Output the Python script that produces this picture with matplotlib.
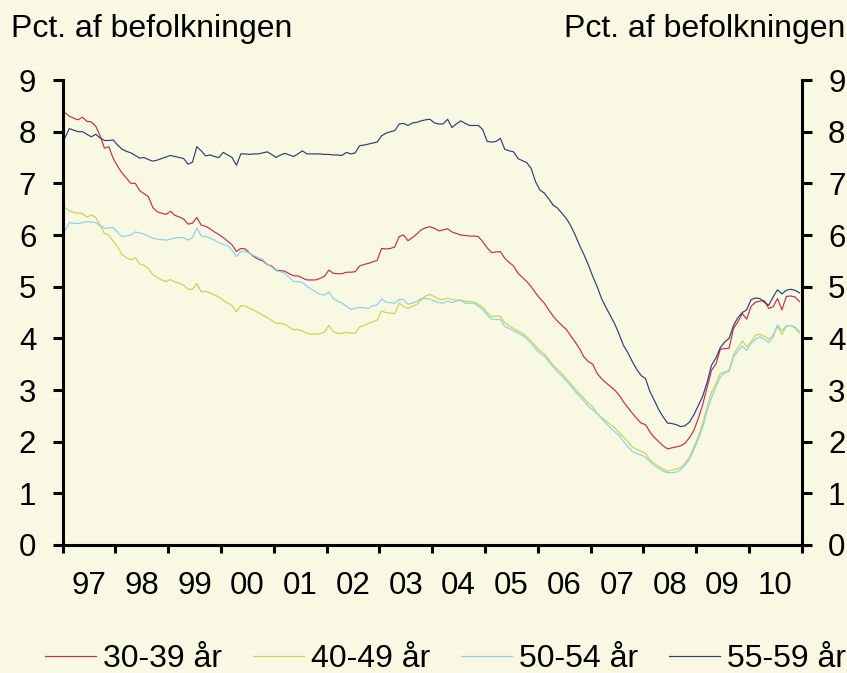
import matplotlib
matplotlib.use("Agg")
import matplotlib.pyplot as plt
import numpy as np

# monthly data, Jan 1997 - Dec 2010 (pct. of population)
age_30_39 = [
    8.37, 8.30, 8.26, 8.23, 8.28, 8.20, 8.19, 8.11, 7.92, 7.68, 7.71, 7.48,
    7.33, 7.20, 7.10, 7.00, 7.00, 6.86, 6.80, 6.74, 6.53, 6.45, 6.42, 6.40,
    6.46, 6.38, 6.35, 6.31, 6.21, 6.23, 6.34, 6.19, 6.17, 6.12, 6.06, 6.01,
    5.95, 5.88, 5.81, 5.68, 5.74, 5.73, 5.65, 5.58, 5.53, 5.50, 5.43, 5.40,
    5.32, 5.31, 5.30, 5.25, 5.21, 5.21, 5.17, 5.13, 5.13, 5.13, 5.16, 5.20,
    5.32, 5.26, 5.25, 5.25, 5.28, 5.28, 5.29, 5.40, 5.43, 5.45, 5.48, 5.51,
    5.74, 5.73, 5.74, 5.77, 5.97, 6.00, 5.89, 5.95, 6.02, 6.10, 6.14, 6.16,
    6.13, 6.08, 6.10, 6.12, 6.06, 6.03, 6.00, 5.99, 5.98, 5.98, 5.97, 5.87,
    5.75, 5.66, 5.67, 5.68, 5.55, 5.47, 5.40, 5.26, 5.18, 5.10, 5.00, 4.88,
    4.77, 4.68, 4.55, 4.43, 4.33, 4.25, 4.17, 4.05, 3.93, 3.80, 3.64, 3.55,
    3.50, 3.32, 3.22, 3.14, 3.07, 3.00, 2.90, 2.77, 2.66, 2.55, 2.45, 2.36,
    2.33, 2.19, 2.08, 2.00, 1.92, 1.86, 1.88, 1.90, 1.92, 1.97, 2.08, 2.22,
    2.45, 2.72, 3.05, 3.38, 3.50, 3.79, 3.80, 3.81, 4.19, 4.32, 4.48, 4.37,
    4.62, 4.70, 4.72, 4.73, 4.58, 4.61, 4.77, 4.55, 4.81, 4.82, 4.80, 4.71,
]

age_40_49 = [
    6.53, 6.47, 6.44, 6.42, 6.42, 6.34, 6.39, 6.34, 6.19, 6.03, 6.00, 5.88,
    5.77, 5.62, 5.56, 5.52, 5.56, 5.44, 5.41, 5.35, 5.23, 5.18, 5.13, 5.10,
    5.14, 5.09, 5.07, 5.03, 4.95, 4.95, 5.06, 4.90, 4.91, 4.88, 4.84, 4.80,
    4.74, 4.68, 4.63, 4.52, 4.63, 4.63, 4.58, 4.54, 4.50, 4.45, 4.40, 4.35,
    4.29, 4.29, 4.27, 4.22, 4.17, 4.17, 4.14, 4.10, 4.08, 4.08, 4.09, 4.12,
    4.25, 4.13, 4.10, 4.09, 4.12, 4.10, 4.10, 4.22, 4.25, 4.29, 4.32, 4.35,
    4.53, 4.50, 4.49, 4.48, 4.68, 4.62, 4.58, 4.62, 4.66, 4.75, 4.82, 4.85,
    4.81, 4.76, 4.75, 4.78, 4.75, 4.74, 4.74, 4.72, 4.71, 4.70, 4.66, 4.60,
    4.50, 4.42, 4.43, 4.43, 4.30, 4.24, 4.19, 4.14, 4.10, 4.03, 3.95, 3.85,
    3.76, 3.70, 3.59, 3.48, 3.40, 3.32, 3.22, 3.12, 3.02, 2.93, 2.84, 2.74,
    2.68, 2.55, 2.47, 2.40, 2.33, 2.27, 2.18, 2.09, 2.00, 1.90, 1.85, 1.81,
    1.77, 1.65, 1.58, 1.52, 1.47, 1.43, 1.45, 1.47, 1.50, 1.58, 1.70, 1.90,
    2.10, 2.35, 2.68, 2.95, 3.13, 3.32, 3.35, 3.38, 3.68, 3.82, 3.95, 3.84,
    3.93, 4.06, 4.08, 4.04, 3.98, 4.06, 4.23, 4.08, 4.23, 4.25, 4.20, 4.10,
]

age_50_54 = [
    6.08, 6.24, 6.23, 6.22, 6.24, 6.26, 6.25, 6.24, 6.19, 6.13, 6.14, 6.14,
    6.05, 5.97, 5.98, 6.00, 6.06, 6.04, 6.02, 5.98, 5.94, 5.92, 5.91, 5.90,
    5.92, 5.94, 5.95, 5.95, 5.90, 5.95, 6.14, 5.98, 5.97, 5.94, 5.90, 5.85,
    5.82, 5.79, 5.71, 5.58, 5.68, 5.68, 5.65, 5.60, 5.56, 5.52, 5.44, 5.38,
    5.31, 5.29, 5.26, 5.18, 5.10, 5.10, 5.08, 5.01, 4.95, 4.90, 4.85, 4.84,
    4.90, 4.77, 4.72, 4.68, 4.62, 4.56, 4.58, 4.60, 4.59, 4.58, 4.63, 4.65,
    4.76, 4.70, 4.69, 4.68, 4.75, 4.75, 4.66, 4.68, 4.72, 4.77, 4.77, 4.76,
    4.72, 4.69, 4.68, 4.72, 4.69, 4.72, 4.74, 4.68, 4.68, 4.68, 4.62, 4.56,
    4.45, 4.37, 4.37, 4.36, 4.23, 4.19, 4.15, 4.10, 4.06, 3.99, 3.90, 3.80,
    3.71, 3.66, 3.55, 3.45, 3.35, 3.27, 3.17, 3.08, 2.97, 2.88, 2.79, 2.68,
    2.62, 2.55, 2.45, 2.36, 2.27, 2.19, 2.12, 2.00, 1.90, 1.81, 1.77, 1.74,
    1.70, 1.61, 1.54, 1.48, 1.43, 1.40, 1.40, 1.41, 1.46, 1.55, 1.66, 1.85,
    2.05, 2.28, 2.60, 2.85, 3.06, 3.25, 3.33, 3.36, 3.64, 3.75, 3.85, 3.77,
    3.90, 3.98, 4.03, 3.98, 3.92, 4.03, 4.26, 4.15, 4.24, 4.25, 4.22, 4.13,
]

age_55_59 = [
    7.88, 8.06, 8.03, 8.00, 8.00, 7.95, 7.90, 7.95, 7.88, 7.83, 7.83, 7.84,
    7.74, 7.66, 7.62, 7.59, 7.54, 7.49, 7.50, 7.46, 7.43, 7.45, 7.48, 7.51,
    7.54, 7.52, 7.50, 7.48, 7.37, 7.41, 7.71, 7.63, 7.53, 7.55, 7.52, 7.50,
    7.60, 7.55, 7.50, 7.35, 7.57, 7.57, 7.56, 7.57, 7.57, 7.59, 7.61, 7.56,
    7.50, 7.55, 7.58, 7.55, 7.52, 7.57, 7.63, 7.57, 7.57, 7.57, 7.57, 7.56,
    7.56, 7.55, 7.55, 7.54, 7.60, 7.57, 7.59, 7.73, 7.74, 7.76, 7.78, 7.80,
    7.92, 7.97, 8.00, 8.02, 8.15, 8.16, 8.12, 8.17, 8.18, 8.21, 8.23, 8.24,
    8.17, 8.15, 8.15, 8.24, 8.08, 8.15, 8.21, 8.16, 8.12, 8.12, 8.12, 8.04,
    7.81, 7.80, 7.81, 7.87, 7.66, 7.63, 7.61, 7.48, 7.44, 7.40, 7.29, 7.03,
    6.87, 6.81, 6.70, 6.58, 6.52, 6.42, 6.32, 6.18, 6.00, 5.80, 5.62, 5.42,
    5.20, 5.00, 4.77, 4.60, 4.44, 4.28, 4.08, 3.86, 3.72, 3.55, 3.40, 3.28,
    3.22, 2.97, 2.80, 2.62, 2.48, 2.36, 2.35, 2.33, 2.29, 2.31, 2.38, 2.52,
    2.70, 2.88, 3.15, 3.48, 3.62, 3.82, 3.93, 4.00, 4.25, 4.40, 4.50, 4.55,
    4.75, 4.78, 4.77, 4.70, 4.64, 4.80, 4.94, 4.86, 4.93, 4.95, 4.93, 4.88,
]

year_labels = ["97", "98", "99", "00", "01", "02", "03", "04",
               "05", "06", "07", "08", "09", "10"]
series_names = ["30-39 år", "40-49 år", "50-54 år", "55-59 år"]
colors = ["#C0304A", "#C8D450", "#88D2EA", "#2C3E7C"]
bg = "#F9F8E2"

plt.rcParams["font.family"] = ["Liberation Sans", "DejaVu Sans"]
plt.rcParams["font.size"] = 22.5

fig = plt.figure(figsize=(8.47, 6.73), dpi=100, facecolor=bg)
ax = fig.add_axes([0.074, 0.1902, 0.8725, 0.6909], facecolor=bg)

months = np.arange(len(age_30_39)) + 0.5
for vals, name, c in zip([age_30_39, age_40_49, age_50_54, age_55_59], series_names, colors):
    ax.plot(months, vals, color=c, lw=0.85, label=name)

ax.set_xlim(0, 12 * len(year_labels))
ax.set_ylim(0, 9)
ax.set_yticks(range(10))

ax.set_xticks(np.arange(0, 12 * len(year_labels) + 1, 12))
ax.set_xticklabels([])
ax.set_xticks(np.arange(6, 12 * len(year_labels), 12), minor=True)
ax.set_xticklabels(year_labels, minor=True)

ax.spines["top"].set_visible(False)
for s in ["left", "right", "bottom"]:
    ax.spines[s].set_linewidth(2.2)

ax.tick_params(axis="y", which="major", direction="out", length=7, width=2.2,
               pad=12, left=True, right=True, labelleft=True, labelright=True,
               labelsize=22.5)
ax.tick_params(axis="x", which="major", direction="out", length=6, width=2.2)
ax.tick_params(axis="x", which="minor", length=0, pad=19, labelsize=22.5)

fig.text(11 / 847, 1 - 37 / 673, "Pct. af befolkningen", ha="left", va="baseline", fontsize=23)
fig.text(845 / 847, 1 - 37 / 673, "Pct. af befolkningen", ha="right", va="baseline", fontsize=23)

fig.legend(loc="center", bbox_to_anchor=(0.526, 1 - 659 / 673), ncol=4, frameon=False,
           fontsize=23, handlelength=1.6, handletextpad=0.22, columnspacing=0.96,
           borderpad=0, borderaxespad=0)

fig.savefig("out.png", dpi=100, facecolor=bg)
